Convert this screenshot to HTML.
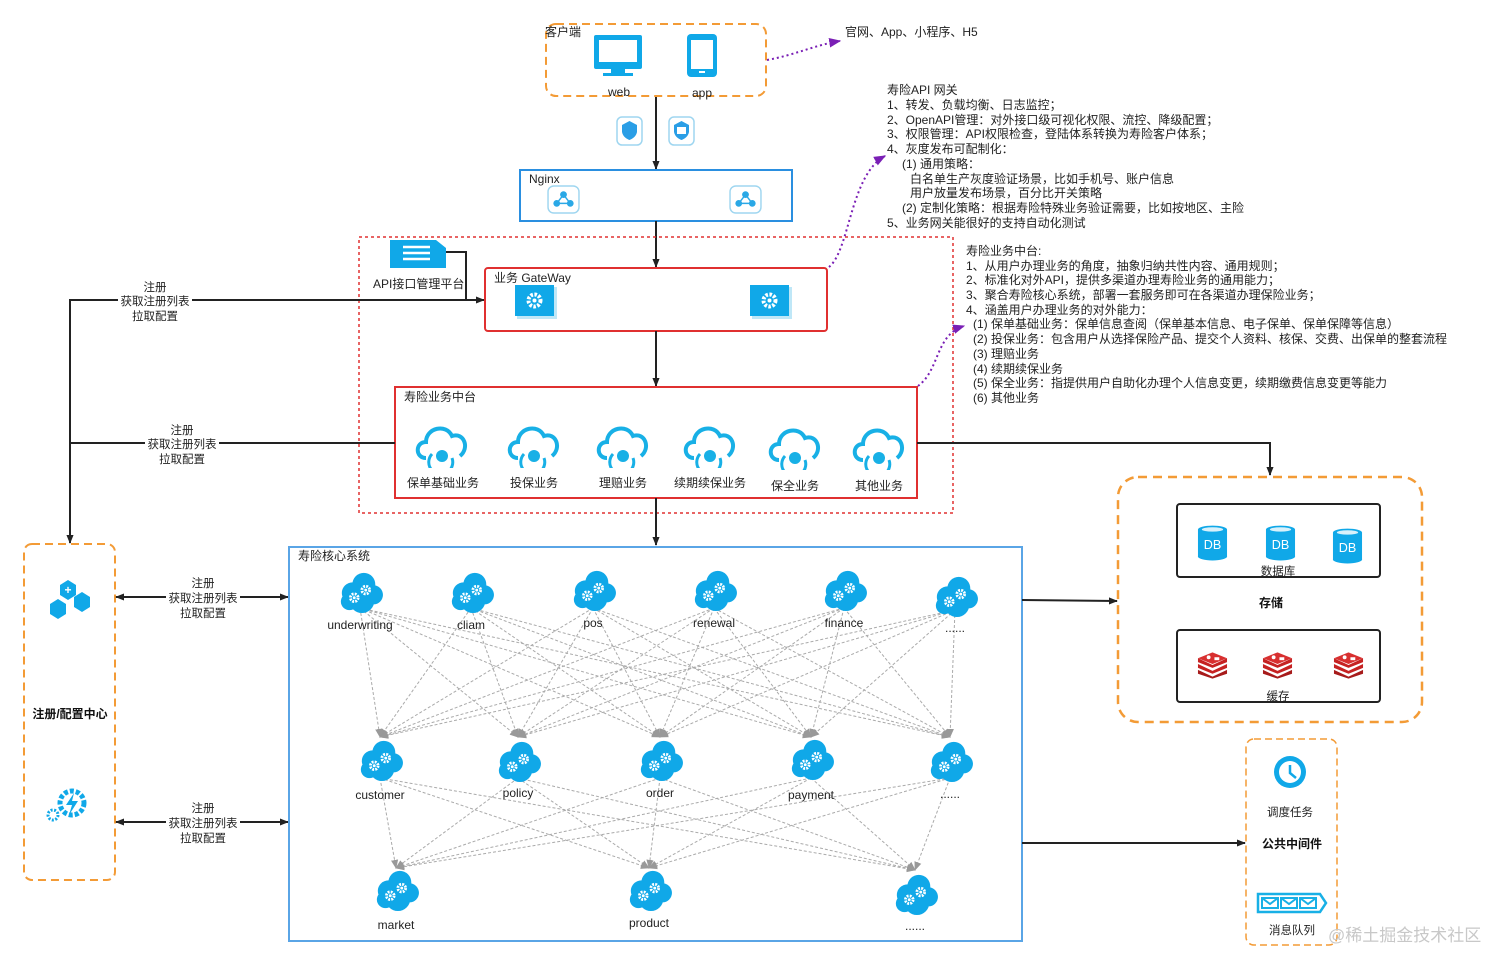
<!DOCTYPE html>
<html><head><meta charset="utf-8"><style>
html,body{margin:0;padding:0;background:#fff;}
svg{display:block;font-family:"Liberation Sans","Noto Sans CJK SC",sans-serif;}
.t{font-size:12px;fill:#222;}
.s{font-size:11.5px;fill:#222;}
.n{font-size:12px;fill:#222;}
.b{font-size:12px;fill:#111;font-weight:bold;}
</style></head><body>
<svg width="1512" height="970" viewBox="0 0 1512 970" xmlns="http://www.w3.org/2000/svg">
<defs>
<marker id="ar" viewBox="0 0 10 10" refX="9" refY="5" markerWidth="9" markerHeight="9" orient="auto-start-reverse" markerUnits="userSpaceOnUse"><path d="M0,1 L10,5 L0,9 Z" fill="#222"/></marker>
<marker id="ap" viewBox="0 0 10 10" refX="9" refY="5" markerWidth="12" markerHeight="12" orient="auto" markerUnits="userSpaceOnUse"><path d="M0,1 L10,5 L0,9 Z" fill="#7a1fb5"/></marker>
<marker id="ag" viewBox="0 0 10 10" refX="9" refY="5" markerWidth="9" markerHeight="9" orient="auto" markerUnits="userSpaceOnUse"><path d="M0,1 L10,5 L0,9 Z" fill="#999"/></marker>
<symbol id="cg" viewBox="0 0 50 46">
<g fill="#10a8e8"><circle cx="17" cy="24" r="11"/><circle cx="29" cy="15" r="12"/><circle cx="39" cy="26" r="10"/><circle cx="14" cy="33" r="9"/><circle cx="27" cy="32" r="13"/></g>
<g fill="none" stroke="#fff"><circle cx="19" cy="29" r="4" stroke-width="3" stroke-dasharray="2 1.2"/><circle cx="31" cy="21" r="4" stroke-width="3" stroke-dasharray="2 1.2"/></g>
<circle cx="19" cy="29" r="1.5" fill="#fff"/><circle cx="31" cy="21" r="1.5" fill="#fff"/>
</symbol>
<symbol id="co" viewBox="0 0 60 50">
<path d="M14,40 C3,40 3,24 14,24 C14,10 34,5 40,18 C52,14 58,30 48,38" fill="none" stroke="#18b0e6" stroke-width="4"/>
<path d="M20,36 A12,12 0 1 0 40,40" fill="none" stroke="#18b0e6" stroke-width="3"/>
<circle cx="30" cy="38" r="6" fill="#18b0e6"/>
</symbol>
<symbol id="gs" viewBox="0 0 42 34">
<rect x="2" y="2" width="40" height="32" fill="#bfe7f7"/><rect x="0" y="0" width="39" height="31" fill="#10a8e8"/>
<circle cx="19.5" cy="15.5" r="6" fill="none" stroke="#fff" stroke-width="4" stroke-dasharray="2.5 1.5"/><circle cx="19.5" cy="15.5" r="2" fill="#fff"/>
</symbol>
<symbol id="ng" viewBox="0 0 34 30">
<rect x="1" y="1" width="32" height="28" rx="6" fill="#fff" stroke="#9fd6f0" stroke-width="1.5"/>
<g fill="#2aa8e6"><circle cx="17" cy="10" r="3.5"/><circle cx="10" cy="19" r="3.5"/><circle cx="24" cy="19" r="3.5"/></g>
<path d="M17,10 L10,19 L24,19 Z" fill="none" stroke="#2aa8e6" stroke-width="1.5"/>
</symbol>
<symbol id="db" viewBox="0 0 32 38">
<rect x="1" y="5" width="30" height="28" fill="#10a8e8"/><ellipse cx="16" cy="33" rx="15" ry="4" fill="#10a8e8"/><ellipse cx="16" cy="5" rx="15" ry="4" fill="#10a8e8"/><ellipse cx="16" cy="5" rx="11" ry="2.2" fill="#d8f1fb"/>
<text x="16" y="25" text-anchor="middle" font-size="13" fill="#fff" font-family="Liberation Sans">DB</text>
</symbol>
<symbol id="rd" viewBox="0 0 32 28">
<path d="M1,19 L16,26 L31,19 L31,23 L16,28 L1,23Z" fill="#a71b1b"/>
<path d="M1,13 L16,20 L31,13 L31,17 L16,23 L1,17Z" fill="#c62222"/>
<path d="M1,7 L16,14 L31,7 L31,11 L16,17 L1,11Z" fill="#c62222"/>
<path d="M1,7 L16,1 L31,7 L16,13Z" fill="#d83030"/>
<circle cx="12" cy="6" r="2" fill="#fff"/><rect x="18" y="6" width="5" height="3" fill="#fff"/>
</symbol>
</defs>

<rect x="546" y="24" width="220" height="72" rx="10" fill="none" stroke="#f39b36" stroke-width="2" stroke-dasharray="8 5"/>
<text x="545" y="36" class="t">客户端</text>
<rect x="594" y="35" width="48" height="34" rx="2" fill="#10a8e8"/><rect x="599" y="40" width="38" height="22" fill="#fff"/><rect x="611" y="69" width="14" height="5" fill="#10a8e8"/><rect x="603" y="73" width="30" height="3" fill="#10a8e8"/>
<rect x="687" y="34" width="30" height="43" rx="4" fill="#10a8e8"/><rect x="691" y="40" width="22" height="29" fill="#fff"/><rect x="699" y="71" width="6" height="2" fill="#fff"/>
<text x="619" y="96" class="t" text-anchor="middle">web</text>
<text x="702" y="97" class="t" text-anchor="middle">app</text>
<path d="M767,60 C795,55 815,45 840,41" fill="none" stroke="#7a1fb5" stroke-width="2" stroke-dasharray="2 3" marker-end="url(#ap)"/>
<text x="845" y="36" class="t">官网、App、小程序、H5</text>

<line x1="656" y1="97" x2="656" y2="169" stroke="#222" stroke-width="2" marker-end="url(#ar)"/>
<rect x="617" y="117" width="25" height="28" rx="5" fill="#fff" stroke="#9fd6f0" stroke-width="1.5"/><path d="M622,125 L629.5,121 L637,125 L637,132 C636,137 632,139 629.5,140 C627,139 623,137 622,132Z" fill="#2a9ee6"/>
<rect x="669" y="117" width="25" height="28" rx="5" fill="#fff" stroke="#9fd6f0" stroke-width="1.5"/><path d="M674,125 L681.5,121 L689,125 L689,132 C688,137 684,139 681.5,140 C679,139 675,137 674,132Z" fill="#2a9ee6"/><rect x="677" y="127" width="9" height="7" fill="#fff"/>

<rect x="520" y="170" width="272" height="51" fill="none" stroke="#2a8fe0" stroke-width="2"/>
<text x="529" y="183" class="t">Nginx</text>
<use href="#ng" x="547" y="185" width="33" height="29"/>
<use href="#ng" x="729" y="185" width="33" height="29"/>
<line x1="656" y1="221" x2="656" y2="267" stroke="#222" stroke-width="2" marker-end="url(#ar)"/>

<rect x="359" y="237" width="594" height="276" fill="none" stroke="#e03030" stroke-width="1.5" stroke-dasharray="3 3"/>
<path d="M390,240 L436,240 L446,248 L446,268 L390,268Z" fill="#10a8e8"/><g stroke="#fff" stroke-width="2.5"><line x1="403" y1="247" x2="430" y2="247"/><line x1="403" y1="253" x2="430" y2="253"/><line x1="403" y1="259" x2="430" y2="259"/></g>
<text x="373" y="288" class="t">API接口管理平台</text>
<polyline points="446,252 466,252 466,300 484,300" fill="none" stroke="#222" stroke-width="2" marker-end="url(#ar)"/>

<rect x="485" y="268" width="342" height="63" rx="3" fill="none" stroke="#e03030" stroke-width="2"/>
<text x="494" y="282" class="t">业务 GateWay</text>
<use href="#gs" x="515" y="285" width="42" height="34"/>
<use href="#gs" x="750" y="285" width="42" height="34"/>
<line x1="656" y1="331" x2="656" y2="386" stroke="#222" stroke-width="2" marker-end="url(#ar)"/>
<path d="M829,267 C850,250 850,175 885,156" fill="none" stroke="#7a1fb5" stroke-width="2" stroke-dasharray="2 3" marker-end="url(#ap)"/>

<rect x="395" y="387" width="522" height="111" fill="none" stroke="#e03030" stroke-width="2"/>
<text x="404" y="401" class="t">寿险业务中台</text>
<use href="#co" x="412" y="418" width="60" height="50"/>
<use href="#co" x="504" y="418" width="60" height="50"/>
<use href="#co" x="593" y="418" width="60" height="50"/>
<use href="#co" x="680" y="418" width="60" height="50"/>
<use href="#co" x="765" y="420" width="60" height="50"/>
<use href="#co" x="849" y="420" width="60" height="50"/>
<g class="t" text-anchor="middle"><text x="443" y="487">保单基础业务</text><text x="534" y="487">投保业务</text><text x="623" y="487">理赔业务</text><text x="710" y="487">续期续保业务</text><text x="795" y="490">保全业务</text><text x="879" y="490">其他业务</text></g>
<path d="M918,386 C940,370 935,335 964,326" fill="none" stroke="#7a1fb5" stroke-width="2" stroke-dasharray="2 3" marker-end="url(#ap)"/>
<line x1="656" y1="498" x2="656" y2="545" stroke="#222" stroke-width="2" marker-end="url(#ar)"/>

<g class="n">
<text x="887" y="94">寿险API 网关</text>
<text x="887" y="109">1、转发、负载均衡、日志监控；</text>
<text x="887" y="124">2、OpenAPI管理：对外接口级可视化权限、流控、降级配置；</text>
<text x="887" y="138">3、权限管理：API权限检查，登陆体系转换为寿险客户体系；</text>
<text x="887" y="153">4、灰度发布可配制化：</text>
<text x="902" y="168">(1) 通用策略：</text>
<text x="910" y="183">白名单生产灰度验证场景，比如手机号、账户信息</text>
<text x="910" y="197">用户放量发布场景，百分比开关策略</text>
<text x="902" y="212">(2) 定制化策略：根据寿险特殊业务验证需要，比如按地区、主险</text>
<text x="887" y="227">5、业务网关能很好的支持自动化测试</text>
<text x="966" y="255">寿险业务中台:</text>
<text x="966" y="270">1、从用户办理业务的角度，抽象归纳共性内容、通用规则；</text>
<text x="966" y="284">2、标准化对外API，提供多渠道办理寿险业务的通用能力；</text>
<text x="966" y="299">3、聚合寿险核心系统，部署一套服务即可在各渠道办理保险业务；</text>
<text x="966" y="314">4、涵盖用户办理业务的对外能力：</text>
<text x="973" y="328">(1) 保单基础业务：保单信息查阅（保单基本信息、电子保单、保单保障等信息）</text>
<text x="973" y="343">(2) 投保业务：包含用户从选择保险产品、提交个人资料、核保、交费、出保单的整套流程</text>
<text x="973" y="358">(3) 理赔业务</text>
<text x="973" y="373">(4) 续期续保业务</text>
<text x="973" y="387">(5) 保全业务：指提供用户自助化办理个人信息变更，续期缴费信息变更等能力</text>
<text x="973" y="402">(6) 其他业务</text>
</g>

<polyline points="484,300 70,300 70,543" fill="none" stroke="#222" stroke-width="2" marker-end="url(#ar)"/>
<line x1="70" y1="443" x2="395" y2="443" stroke="#222" stroke-width="2"/>
<rect x="118" y="279" width="74" height="44" fill="#fff"/>
<g class="s" text-anchor="middle"><text x="155" y="291">注册</text><text x="155" y="305">获取注册列表</text><text x="155" y="320">拉取配置</text></g>
<rect x="145" y="422" width="74" height="44" fill="#fff"/>
<g class="s" text-anchor="middle"><text x="182" y="434">注册</text><text x="182" y="448">获取注册列表</text><text x="182" y="463">拉取配置</text></g>

<rect x="24" y="544" width="91" height="336" rx="8" fill="none" stroke="#f39b36" stroke-width="2" stroke-dasharray="8 5"/>
<g fill="#10a8e8"><polygon points="60,585 68,580 76,585 76,595 68,600 60,595"/><polygon points="74,597 82,592 90,597 90,607 82,612 74,607"/><polygon points="50,604 58,599 66,604 66,614 58,619 50,614"/></g>
<text x="68" y="594" font-size="12" fill="#fff" text-anchor="middle" font-weight="bold">+</text>
<text x="70" y="718" class="b" text-anchor="middle">注册/配置中心</text>
<circle cx="72" cy="803" r="12" fill="none" stroke="#10a8e8" stroke-width="5" stroke-dasharray="4 2"/><path d="M74,793 L66,805 L72,805 L69,815 L78,801 L72,801Z" fill="#10a8e8"/><circle cx="53" cy="815" r="5" fill="none" stroke="#10a8e8" stroke-width="3" stroke-dasharray="2 1.5"/>

<line x1="116" y1="597" x2="288" y2="597" stroke="#222" stroke-width="2" marker-start="url(#ar)" marker-end="url(#ar)"/>
<line x1="116" y1="822" x2="288" y2="822" stroke="#222" stroke-width="2" marker-start="url(#ar)" marker-end="url(#ar)"/>
<rect x="166" y="576" width="74" height="44" fill="#fff"/>
<g class="s" text-anchor="middle"><text x="203" y="587">注册</text><text x="203" y="602">获取注册列表</text><text x="203" y="617">拉取配置</text></g>
<rect x="166" y="801" width="74" height="44" fill="#fff"/>
<g class="s" text-anchor="middle"><text x="203" y="812">注册</text><text x="203" y="827">获取注册列表</text><text x="203" y="842">拉取配置</text></g>

<rect x="289" y="547" width="733" height="394" fill="none" stroke="#5aa5e6" stroke-width="2"/>
<text x="298" y="560" class="t">寿险核心系统</text>
<g stroke="#aaa" stroke-width="1" stroke-dasharray="3 2" fill="none" marker-end="url(#ag)">
<line x1="360" y1="608" x2="380" y2="737"/><line x1="360" y1="608" x2="518" y2="737"/><line x1="360" y1="608" x2="660" y2="737"/><line x1="360" y1="608" x2="811" y2="737"/><line x1="360" y1="608" x2="950" y2="737"/>
<line x1="471" y1="608" x2="380" y2="737"/><line x1="471" y1="608" x2="518" y2="737"/><line x1="471" y1="608" x2="660" y2="737"/><line x1="471" y1="608" x2="811" y2="737"/><line x1="471" y1="608" x2="950" y2="737"/>
<line x1="593" y1="608" x2="380" y2="737"/><line x1="593" y1="608" x2="518" y2="737"/><line x1="593" y1="608" x2="660" y2="737"/><line x1="593" y1="608" x2="811" y2="737"/><line x1="593" y1="608" x2="950" y2="737"/>
<line x1="714" y1="608" x2="380" y2="737"/><line x1="714" y1="608" x2="518" y2="737"/><line x1="714" y1="608" x2="660" y2="737"/><line x1="714" y1="608" x2="811" y2="737"/><line x1="714" y1="608" x2="950" y2="737"/>
<line x1="844" y1="608" x2="380" y2="737"/><line x1="844" y1="608" x2="518" y2="737"/><line x1="844" y1="608" x2="660" y2="737"/><line x1="844" y1="608" x2="811" y2="737"/><line x1="844" y1="608" x2="950" y2="737"/>
<line x1="955" y1="610" x2="380" y2="737"/><line x1="955" y1="610" x2="518" y2="737"/><line x1="955" y1="610" x2="660" y2="737"/><line x1="955" y1="610" x2="811" y2="737"/><line x1="955" y1="610" x2="950" y2="737"/>
<line x1="380" y1="778" x2="396" y2="868"/><line x1="380" y1="778" x2="649" y2="868"/><line x1="380" y1="778" x2="915" y2="870"/>
<line x1="518" y1="778" x2="396" y2="868"/><line x1="518" y1="778" x2="649" y2="868"/><line x1="518" y1="778" x2="915" y2="870"/>
<line x1="660" y1="778" x2="396" y2="868"/><line x1="660" y1="778" x2="649" y2="868"/><line x1="660" y1="778" x2="915" y2="870"/>
<line x1="811" y1="778" x2="396" y2="868"/><line x1="811" y1="778" x2="649" y2="868"/><line x1="811" y1="778" x2="915" y2="870"/>
<line x1="950" y1="778" x2="396" y2="868"/><line x1="950" y1="778" x2="649" y2="868"/><line x1="950" y1="778" x2="915" y2="870"/>
</g>
<use href="#cg" x="336" y="570" width="48" height="44"/>
<use href="#cg" x="447" y="570" width="48" height="44"/>
<use href="#cg" x="569" y="568" width="48" height="44"/>
<use href="#cg" x="690" y="568" width="48" height="44"/>
<use href="#cg" x="820" y="568" width="48" height="44"/>
<use href="#cg" x="931" y="574" width="48" height="44"/>
<use href="#cg" x="356" y="738" width="48" height="44"/>
<use href="#cg" x="494" y="739" width="48" height="44"/>
<use href="#cg" x="636" y="738" width="48" height="44"/>
<use href="#cg" x="787" y="737" width="48" height="44"/>
<use href="#cg" x="926" y="739" width="48" height="44"/>
<use href="#cg" x="372" y="868" width="48" height="44"/>
<use href="#cg" x="625" y="868" width="48" height="44"/>
<use href="#cg" x="891" y="872" width="48" height="44"/>
<g class="t" text-anchor="middle">
<text x="360" y="629">underwriting</text><text x="471" y="629">cliam</text><text x="593" y="627">pos</text><text x="714" y="627">renewal</text><text x="844" y="627">finance</text><text x="955" y="632">......</text>
<text x="380" y="799">customer</text><text x="518" y="797">policy</text><text x="660" y="797">order</text><text x="811" y="799">payment</text><text x="950" y="798">......</text>
<text x="396" y="929">market</text><text x="649" y="927">product</text><text x="915" y="930">......</text>
</g>

<polyline points="917,443 1270,443 1270,475" fill="none" stroke="#222" stroke-width="2" marker-end="url(#ar)"/>
<line x1="1022" y1="600" x2="1117" y2="601" stroke="#222" stroke-width="2" marker-end="url(#ar)"/>
<line x1="1022" y1="843" x2="1245" y2="843" stroke="#222" stroke-width="2" marker-end="url(#ar)"/>
<rect x="1118" y="477" width="304" height="245" rx="20" fill="none" stroke="#f39b36" stroke-width="2.5" stroke-dasharray="9 6"/>
<rect x="1177" y="504" width="203" height="73" rx="3" fill="none" stroke="#222" stroke-width="2"/>
<use href="#db" x="1197" y="524" width="31" height="38"/>
<use href="#db" x="1265" y="524" width="31" height="38"/>
<use href="#db" x="1332" y="527" width="31" height="38"/>
<text x="1278" y="575" class="s" text-anchor="middle">数据库</text>
<text x="1271" y="607" class="b" text-anchor="middle">存储</text>
<rect x="1177" y="630" width="203" height="72" rx="3" fill="none" stroke="#222" stroke-width="2"/>
<use href="#rd" x="1197" y="651" width="31" height="28"/>
<use href="#rd" x="1262" y="651" width="31" height="28"/>
<use href="#rd" x="1333" y="651" width="31" height="28"/>
<text x="1278" y="700" class="s" text-anchor="middle">缓存</text>

<rect x="1246" y="739" width="91" height="206" rx="8" fill="none" stroke="#f39b36" stroke-width="1.5" stroke-dasharray="7 4"/>
<circle cx="1290" cy="772" r="16" fill="#10a8e8"/><circle cx="1290" cy="772" r="11" fill="#fff"/><path d="M1290,765 L1290,773 L1296,778" stroke="#10a8e8" stroke-width="2.5" fill="none"/>
<text x="1290" y="816" class="s" text-anchor="middle">调度任务</text>
<text x="1292" y="848" class="b" text-anchor="middle">公共中间件</text>
<path d="M1258,894 L1320,894 L1326,903 L1320,912 L1258,912Z" fill="#fff" stroke="#18b0e6" stroke-width="2.5"/>
<g fill="none" stroke="#18b0e6" stroke-width="2"><rect x="1262" y="898" width="16" height="10"/><rect x="1281" y="898" width="16" height="10"/><rect x="1300" y="898" width="16" height="10"/><polyline points="1262,898 1270,904 1278,898"/><polyline points="1281,898 1289,904 1297,898"/><polyline points="1300,898 1308,904 1316,898"/></g>
<text x="1292" y="934" class="s" text-anchor="middle">消息队列</text>
<text x="1328" y="941" font-size="17" fill="#c8c8c8">@稀土掘金技术社区</text>
</svg>
</body></html>
